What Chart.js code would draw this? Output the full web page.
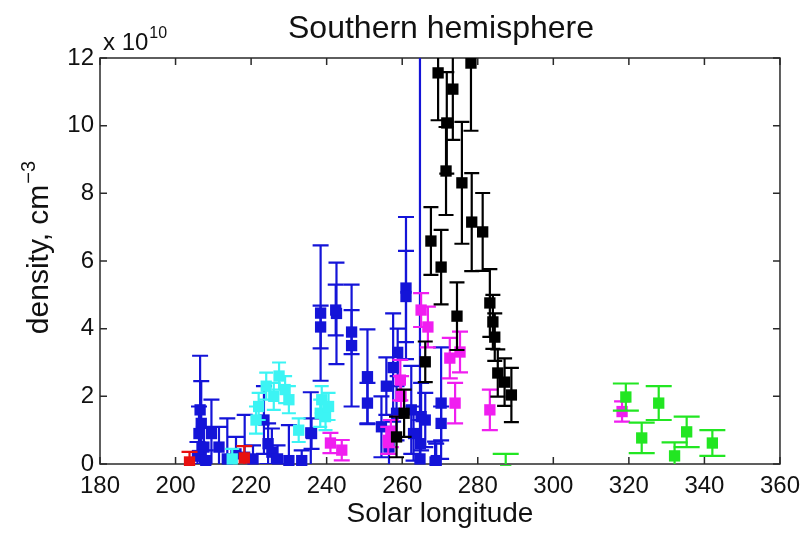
<!DOCTYPE html>
<html>
<head>
<meta charset="utf-8">
<script src="https://cdn.jsdelivr.net/npm/chart.js@4/dist/chart.umd.min.js"></script>
<style>
  html, body { margin: 0; padding: 0; background: #ffffff; }
  #wrap { width: 808px; height: 533px; }
</style>
</head>
<body>
<div id="wrap"><canvas id="c" width="808" height="533"></canvas></div>
<script>
// Solar longitude (deg), density (x 1e10 cm^-3) and symmetric error per series
const redLon = [203.7, 218.2];
const redVal = [0.06, 0.18];
const redErr = [0.3, 0.35];

const blueLon = [206.5, 206.8, 206.2, 207.5, 205.8, 208.0, 209.5, 211.5, 213.7, 216.0, 218.3, 220.5,
                 223.4, 224.5, 225.5, 227.0, 230.0, 233.4, 235.8, 236.0, 238.4, 238.4, 242.6, 242.4,
                 246.6, 246.6, 250.8, 250.8, 254.5, 255.8, 257.6, 256.5, 258.5, 258.8, 261.0, 261.0,
                 262.4, 263.0, 264.7, 265.0, 264.8, 266.1, 268.7, 269.0, 270.3, 270.3];
const blueVal = [1.6, 1.2, 0.9, 0.5, 0.25, 0.1, 0.9, 0.5, 0.15, 0.3, 0.2, 0.15,
                 1.3, 0.6, 0.35, 0.15, 0.1, 0.1, 0.92, 0.9, 4.46, 4.05, 4.45, 4.55,
                 3.9, 3.5, 2.58, 1.8, 1.1, 2.3, 2.85, 0.5, 1.5, 3.3, 5.2, 4.95,
                 1.6, 0.9, 0.15, 1.4, 0.6, 1.3, 0.06, 0.1, 1.8, 1.2];
const blueErr = [1.6, 1.25, 0.8, 0.6, 0.4, 0.3, 1.0, 0.6, 1.2, 0.5, 1.25, 0.4,
                 1.0, 0.6, 0.7, 0.4, 1.05, 0.3, 1.2, 0.45, 2.0, 0.63, 1.5, 0.75,
                 0.65, 1.8, 1.4, 0.6, 0.9, 0.85, 1.6, 0.6, 0.8, 0.7, 2.1, 1.35,
                 1.3, 0.8, 14.0, 1.0, 0.7, 0.8, 0.6, 0.5, 1.65, 0.5];

const cyanLon = [215.0, 221.3, 222.0, 224.0, 226.0, 227.4, 229.0, 230.0, 232.6, 238.3, 238.7, 239.7, 240.5];
const cyanVal = [0.15, 1.3, 1.7, 2.3, 2.0, 2.6, 2.2, 1.9, 1.0, 1.5, 1.9, 1.4, 1.7];
const cyanErr = [0.3, 0.4, 0.4, 0.4, 0.4, 0.4, 0.4, 0.4, 0.35, 0.4, 0.4, 0.4, 0.4];

const magentaLon = [241.0, 244.0, 256.3, 257.0, 259.5, 259.7, 265.0, 266.8, 272.6, 275.3, 274.0, 283.2, 318.2];
const magentaVal = [0.62, 0.41, 0.7, 0.9, 2.48, 2.0, 4.55, 4.05, 3.13, 3.31, 1.8, 1.6, 1.55];
const magentaErr = [0.3, 0.3, 0.4, 0.4, 0.6, 0.6, 0.5, 0.6, 0.6, 0.6, 0.6, 0.6, 0.3];

const blackLon = [258.5, 260.5, 266.1, 267.6, 269.5, 270.3, 271.6, 271.8, 273.4, 274.5, 275.8, 278.2,
                  278.4, 281.3, 283.2, 284.0, 284.5, 285.3, 287.1, 288.9];
const blackVal = [0.8, 1.5, 3.02, 6.59, 11.56, 5.82, 8.66, 10.08, 11.08, 4.37, 8.31, 11.85,
                  7.15, 6.86, 4.76, 4.2, 3.75, 2.69, 2.42, 2.04];
const blackErr = [0.6, 0.7, 0.6, 1.0, 1.4, 1.1, 1.3, 1.5, 1.5, 1.0, 1.8, 2.0,
                  1.45, 1.15, 1.0, 0.8, 0.7, 0.7, 0.7, 0.8];

const greenLon = [287.4, 319.2, 323.4, 327.9, 332.1, 335.3, 342.1];
const greenVal = [-0.2, 1.98, 0.77, 1.8, 0.24, 0.95, 0.62];
const greenErr = [0.5, 0.4, 0.45, 0.5, 0.4, 0.45, 0.38];

const xTickValues = [180, 200, 220, 240, 260, 280, 300, 320, 340, 360];
const yTickValues = [0, 2, 4, 6, 8, 10, 12];

const FONT = "'Liberation Sans', Arial, Helvetica, sans-serif";

function points(lon, val, err) {
  return lon.map((x, i) => ({ x: x, y: val[i], e: err[i] }));
}

function series(label, lon, val, err, color, capWidth) {
  return {
    label: label,
    data: points(lon, val, err),
    backgroundColor: color,
    borderColor: color,
    borderWidth: 0,
    pointStyle: 'rect',
    pointRadius: 8,
    pointHoverRadius: 8,
    capWidth: capWidth,
    clip: { left: 10, top: 0, right: 10, bottom: 2 }
  };
}

// vertical error bars with end caps, drawn just before each dataset's markers
const errorBars = {
  id: 'errorBars',
  beforeDatasetDraw(chart, args) {
    const ds = chart.data.datasets[args.index];
    const { ctx, chartArea: a } = chart;
    const xs = chart.scales.x, ys = chart.scales.y;
    ctx.save();
    ctx.beginPath();
    ctx.rect(a.left - 20, a.top, a.right - a.left + 40, a.bottom - a.top);
    ctx.clip();
    ctx.strokeStyle = ds.borderColor;
    ctx.lineWidth = 2.2;
    const hw = ds.capWidth / 2;
    ds.data.forEach(p => {
      const px = xs.getPixelForValue(p.x);
      const top = ys.getPixelForValue(p.y + p.e);
      const bot = ys.getPixelForValue(p.y - p.e);
      ctx.beginPath();
      ctx.moveTo(px, top); ctx.lineTo(px, bot);
      ctx.moveTo(px - hw, top); ctx.lineTo(px + hw, top);
      ctx.moveTo(px - hw, bot); ctx.lineTo(px + hw, bot);
      ctx.stroke();
    });
    ctx.restore();
  }
};

// box around the plot area with inward tick marks on all four sides,
// plus the title, y-axis title and the scale factor
const frame = {
  id: 'frame',
  beforeDatasetsDraw(chart) {
    const { ctx, chartArea: a } = chart;
    const xs = chart.scales.x, ys = chart.scales.y;
    const len = 7;
    ctx.save();
    ctx.strokeStyle = '#2a2a2a';
    ctx.lineWidth = 1.5;
    ctx.strokeRect(a.left, a.top, a.right - a.left, a.bottom - a.top);
    ctx.beginPath();
    xTickValues.forEach(v => {
      const px = xs.getPixelForValue(v);
      ctx.moveTo(px, a.bottom); ctx.lineTo(px, a.bottom - len);
      ctx.moveTo(px, a.top); ctx.lineTo(px, a.top + len);
    });
    yTickValues.forEach(v => {
      const py = ys.getPixelForValue(v);
      ctx.moveTo(a.left, py); ctx.lineTo(a.left + len, py);
      ctx.moveTo(a.right, py); ctx.lineTo(a.right - len, py);
    });
    ctx.stroke();
    ctx.restore();
  },
  afterDraw(chart) {
    const { ctx, chartArea: a } = chart;

    // title centred over the plot area
    ctx.save();
    ctx.fillStyle = '#111111';
    ctx.textAlign = 'center';
    ctx.textBaseline = 'middle';
    ctx.font = '32px ' + FONT;
    ctx.fillText('Southern hemisphere', (a.left + a.right) / 2 + 1, 29);
    ctx.restore();

    // y-axis title with superscript exponent
    ctx.save();
    ctx.fillStyle = '#111111';
    ctx.translate(40, 248);
    ctx.rotate(-Math.PI / 2);
    ctx.textBaseline = 'middle';
    ctx.textAlign = 'left';
    const main = 'density, cm';
    const sup = '\u22123';
    ctx.font = '30px ' + FONT;
    const w1 = ctx.measureText(main).width;
    ctx.font = '20px ' + FONT;
    const w2 = ctx.measureText(sup).width;
    const x0 = -(w1 + w2) / 2;
    ctx.font = '30px ' + FONT;
    ctx.fillText(main, x0, 0);
    ctx.font = '20px ' + FONT;
    ctx.fillText(sup, x0 + w1 + 1, -11);
    ctx.restore();

    // scale factor above the y axis
    ctx.save();
    ctx.fillStyle = '#111111';
    ctx.textBaseline = 'alphabetic';
    ctx.textAlign = 'left';
    ctx.font = '24px ' + FONT;
    const t = 'x 10';
    ctx.fillText(t, a.left + 3, a.top - 8);
    const tw = ctx.measureText(t).width;
    ctx.font = '16px ' + FONT;
    ctx.fillText('10', a.left + 3 + tw + 1, a.top - 20);
    ctx.restore();
  }
};

const ctx = document.getElementById('c').getContext('2d');
new Chart(ctx, {
  type: 'scatter',
  data: {
    datasets: [
      series('green', greenLon, greenVal, greenErr, '#22e622', 26),
      series('black', blackLon, blackVal, blackErr, '#000000', 15),
      series('magenta', magentaLon, magentaVal, magentaErr, '#f01ef0', 16),
      series('red', redLon, redVal, redErr, '#e81010', 16),
      series('cyan', cyanLon, cyanVal, cyanErr, '#3cf4f4', 14),
      series('blue', blueLon, blueVal, blueErr, '#1414d8', 16)
    ]
  },
  options: {
    responsive: false,
    animation: false,
    events: [],
    layout: { padding: { left: 0, right: 24, top: 58, bottom: 0 } },
    plugins: {
      legend: { display: false },
      tooltip: { enabled: false },
      title: { display: false }
    },
    scales: {
      x: {
        type: 'linear',
        min: 180, max: 360,
        afterBuildTicks: s => { s.ticks = xTickValues.map(v => ({ value: v })); },
        afterFit: s => { s.height = 69; },
        grid: { display: false, drawTicks: false },
        border: { display: false },
        ticks: { color: '#111111', padding: 8, font: { family: FONT, size: 24 }, maxRotation: 0 },
        title: {
          display: true,
          text: 'Solar longitude',
          color: '#111111',
          font: { family: FONT, size: 28 },
          padding: { top: 0, bottom: 2 }
        }
      },
      y: {
        type: 'linear',
        min: 0, max: 12,
        afterBuildTicks: s => { s.ticks = yTickValues.map(v => ({ value: v })); },
        afterFit: s => { s.width = 100; },
        grid: { display: false, drawTicks: false },
        border: { display: false },
        ticks: { color: '#111111', padding: 6, font: { family: FONT, size: 24 } }
      }
    }
  },
  plugins: [errorBars, frame]
});
</script>
</body>
</html>
